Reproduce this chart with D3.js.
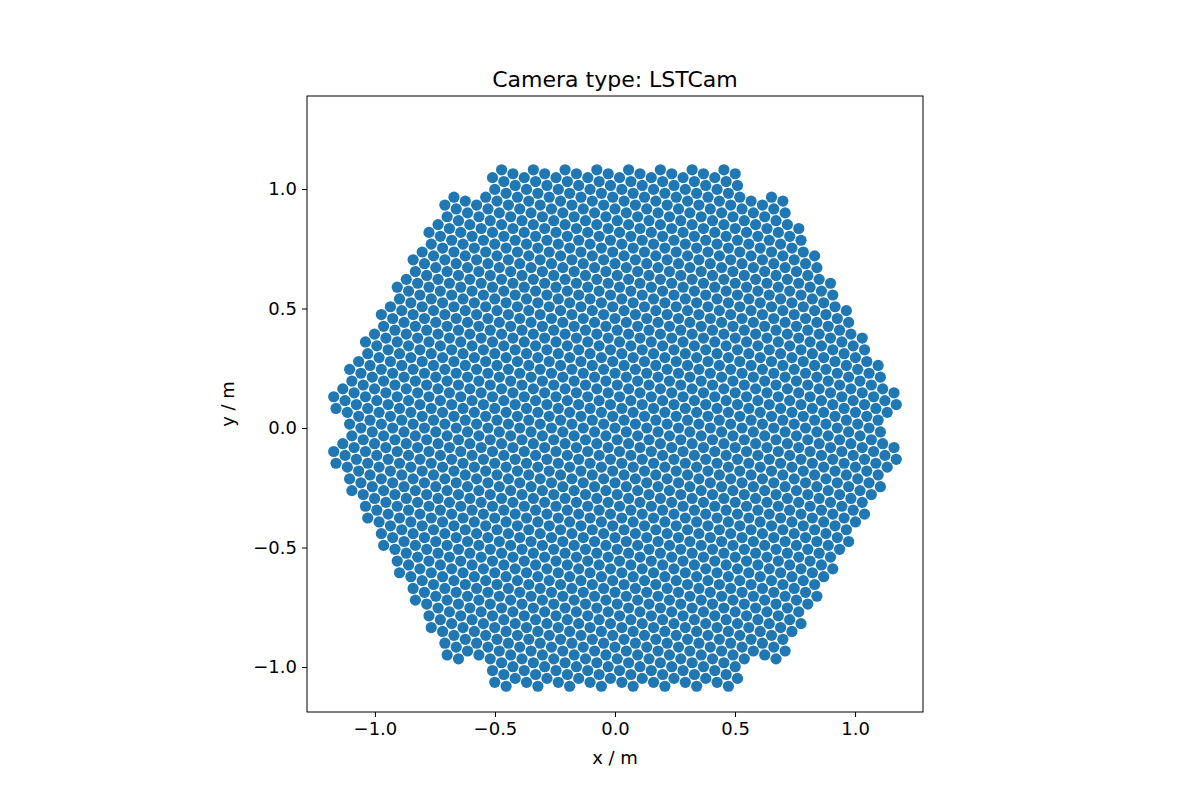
<!DOCTYPE html>
<html><head><meta charset="utf-8">
<script src="https://cdn.jsdelivr.net/npm/d3@7"></script>
<style>body{margin:0;background:#fff}text{font-family:"DejaVu Sans",sans-serif}</style>
</head><body><svg id="c" width="1200" height="800"></svg>
<script>
// Camera geometry description (LSTCam: 265 modules x 7 pixels = 1855 pixels)
const cameraName = "LSTCam";
const pixelPitch = [0.05];          // m, pixel centre spacing
const moduleRings = [9];            // rings of modules around the centre module
const removedCorners = [6];         // the 6 outermost corner modules are absent
const xTicks = [-1.0, -0.5, 0.0, 0.5, 1.0];
const yTicks = [-1.0, -0.5, 0.0, 0.5, 1.0];

// build pixel positions from the module/pixel lattice
const d = pixelPitch[0];
const beta = Math.atan(Math.sqrt(3)/5); // pixel lattice vs module lattice
const M = Math.sqrt(7)*d;
const n = moduleRings[0];
const pixels = [];
for (let q=-n;q<=n;q++) for (let r=-n;r<=n;r++) {
  const s=-q-r; if (Math.abs(s)>n) continue;
  const isCorner = (Math.abs(q)===n||Math.abs(r)===n||Math.abs(s)===n) &&
    ((q===0||r===0||s===0));
  if (isCorner && [Math.abs(q),Math.abs(r),Math.abs(s)].filter(v=>v===n).length===2) continue;
  const mx = M*(q + r/2), my = M*(r*Math.sqrt(3)/2);
  pixels.push([mx,my]);
  for (let k=0;k<6;k++){const a=-beta+k*Math.PI/3; pixels.push([mx+d*Math.cos(a), my+d*Math.sin(a)]);}
}

const svg=d3.select("#c");
const L=307,R=923,T=96,B=712;
const x=d3.scaleLinear().domain([-1.283,1.283]).range([L,R]);
const y=d3.scaleLinear().domain([-1.188,1.389]).range([B,T]);
svg.append("g").selectAll("circle").data(pixels).join("circle")
  .attr("cx",p=>x(p[0])).attr("cy",p=>y(p[1])).attr("r",5.6).attr("fill","#1f77b4");
svg.append("rect").attr("x",L).attr("y",T).attr("width",R-L).attr("height",B-T)
  .attr("fill","none").attr("stroke","#000").attr("stroke-width",1);
const fmt=v=>(v<0?"\u2212":"")+Math.abs(v).toFixed(1);
const gx=svg.append("g").attr("transform",`translate(0,${B})`)
  .call(d3.axisBottom(x).tickValues(xTicks).tickFormat(fmt).tickSize(5).tickPadding(5));
const gy=svg.append("g").attr("transform",`translate(${L},0)`)
  .call(d3.axisLeft(y).tickValues(yTicks).tickFormat(fmt).tickSize(5).tickPadding(5));
[gx,gy].forEach(g=>{g.select(".domain").remove();g.selectAll("text").attr("font-size",18).attr("fill","#000").style("font-family","DejaVu Sans");});
svg.append("text").attr("x",615).attr("y",87).attr("text-anchor","middle").attr("font-size",22).text("Camera type: "+cameraName);
svg.append("text").attr("x",615).attr("y",764).attr("text-anchor","middle").attr("font-size",18).text("x / m");
svg.append("text").attr("transform","translate(234,404) rotate(-90)").attr("text-anchor","middle").attr("font-size",18).text("y / m");
</script></body></html>
